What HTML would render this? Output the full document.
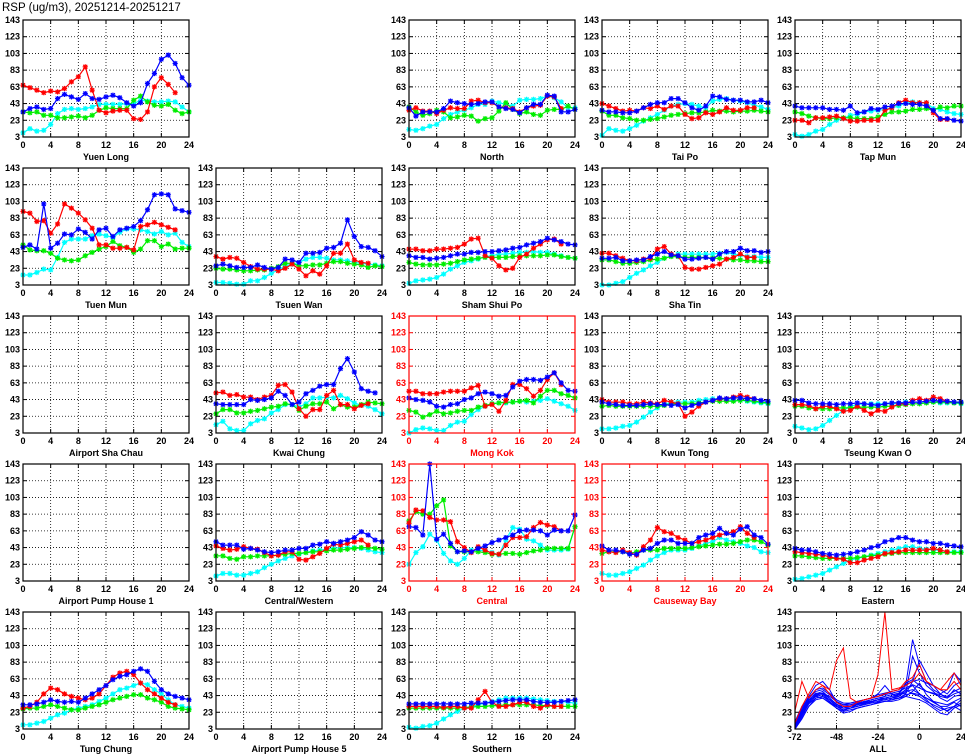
<!DOCTYPE html>
<html><head><meta charset="utf-8"><style>
html,body{margin:0;padding:0;background:#fff;}
svg{display:block;font-family:"Liberation Sans",sans-serif;font-weight:bold;}
</style></head><body>
<svg id="chart" width="965" height="755" viewBox="0 0 965 755" xmlns="http://www.w3.org/2000/svg">
<text x="2" y="11" font-size="11.5" font-weight="normal" fill="#000">RSP (ug/m3), 20251214-20251217</text>
</svg>
<script>
const hours = [0,1,2,3,4,5,6,7,8,9,10,11,12,13,14,15,16,17,18,19,20,21,22,23,24];
const xTicks = [0,4,8,12,16,20,24];
const yTicks = [3,23,43,63,83,103,123,143];
const allXTicks = [-72,-48,-24,0,24];
const allHours = [-72,-68,-64,-60,-56,-52,-48,-44,-40,-36,-32,-28,-24,-20,-16,-12,-8,-4,0,4,8,12,16,20,24];
const N = null;

const yuenLongRed=[65,62,59,56,58,57,61,69,75,87,59,35,32,34,35,35,25,24,33,63,74,66,56,N,N];
const yuenLongBlue=[33,37,39,36,37,49,54,51,48,55,49,48,51,53,50,44,40,44,67,79,96,101,91,74,65];
const yuenLongCyan=[8,13,10,11,18,31,36,37,36,37,39,42,42,42,42,43,43,47,46,45,45,46,45,39,33];
const yuenLongGreen=[33,32,33,29,29,26,26,27,28,26,29,35,38,37,37,37,47,52,45,41,40,42,35,31,33];

const northRed=[35,38,34,34,31,35,38,37,37,46,47,44,44,39,38,37,33,38,40,41,52,51,37,N,N];
const northBlue=[38,28,33,33,33,37,46,44,43,42,43,45,45,39,37,36,32,38,42,42,53,52,33,33,36];
const northCyan=[12,11,13,16,18,25,30,33,35,38,42,42,46,44,42,40,47,48,48,49,52,50,45,38,38];
const northGreen=[39,33,29,31,35,33,26,27,29,28,22,25,26,34,44,36,31,33,30,29,35,36,36,40,36];

const taiPoRed=[43,40,37,34,35,34,38,37,40,36,40,40,30,25,26,32,30,33,38,35,35,38,38,N,N];
const taiPoBlue=[35,33,33,32,32,34,38,42,44,44,49,49,44,38,35,40,52,51,48,47,47,45,45,47,44];
const taiPoCyan=[5,13,11,10,13,17,22,26,30,35,40,42,43,42,40,38,46,48,49,47,46,44,41,39,36];
const taiPoGreen=[34,29,29,26,25,23,23,24,25,27,29,30,31,32,32,33,35,34,34,33,34,34,35,34,33];

const tapMunRed=[23,23,20,26,26,27,28,25,22,22,23,23,23,35,38,44,47,44,44,44,32,24,24,N,N];
const tapMunBlue=[40,38,38,38,38,36,36,35,40,32,33,37,36,39,40,43,43,42,42,40,35,25,25,23,22];
const tapMunCyan=[6,4,6,10,12,18,23,25,29,30,33,34,35,36,38,40,44,45,44,44,37,36,33,31,30];
const tapMunGreen=[33,31,28,26,25,25,26,26,26,25,25,25,27,30,33,33,34,36,36,37,35,39,38,40,40];

const tuenMunRed=[91,89,79,80,65,76,100,95,89,81,71,51,51,47,47,48,45,73,75,78,75,72,69,N,N];
const tuenMunBlue=[48,51,46,100,47,53,64,63,70,66,58,69,71,61,69,71,73,80,93,111,112,111,94,92,90];
const tuenMunCyan=[15,15,18,22,21,36,54,58,58,58,62,64,62,60,66,70,70,69,67,64,67,63,65,54,49];
const tuenMunGreen=[51,45,44,44,41,35,33,32,33,38,42,46,49,55,50,48,42,46,56,56,49,52,46,47,47];

const tsuenWanRed=[37,34,36,35,30,25,22,22,22,20,23,28,22,14,20,16,26,41,41,52,33,30,29,N,N];
const tsuenWanBlue=[26,28,26,24,24,24,27,24,22,24,34,33,30,41,41,42,47,48,53,81,61,49,48,44,37];
const tsuenWanCyan=[6,6,5,4,4,8,8,12,17,21,26,28,30,34,36,36,35,33,33,32,30,29,28,27,26];
const tsuenWanGreen=[23,22,22,21,20,20,21,21,23,25,29,29,26,26,27,27,29,31,31,29,28,27,24,26,25];

const shamShuiPoRed=[46,46,44,44,46,46,47,48,52,58,59,38,35,26,21,23,36,40,47,52,57,58,52,N,N];
const shamShuiPoBlue=[38,36,36,34,35,36,38,40,40,42,42,43,43,44,45,47,48,51,53,55,59,57,55,52,51];
const shamShuiPoCyan=[5,8,9,10,12,16,22,26,30,32,34,37,38,40,40,41,42,42,43,42,42,40,38,36,35];
const shamShuiPoGreen=[30,28,27,27,27,28,29,31,33,34,35,36,36,36,36,37,38,38,38,38,39,39,37,36,35];

const shaTinRed=[41,41,38,35,32,32,34,35,46,49,40,38,24,22,22,24,26,28,34,36,40,36,36,N,N];
const shaTinBlue=[35,35,36,32,32,33,33,37,40,43,39,38,34,34,35,36,34,40,43,43,47,44,44,42,43];
const shaTinCyan=[3,3,5,7,12,17,21,26,30,35,38,40,40,40,40,40,40,41,42,40,39,37,37,36,36];
const shaTinGreen=[33,33,31,29,29,30,31,33,34,35,37,37,36,36,36,36,35,35,34,33,33,32,32,31,31];

const kwaiChungRed=[51,52,48,49,46,46,43,46,48,60,61,52,32,23,31,31,48,54,37,37,32,36,38,N,N];
const kwaiChungBlue=[38,37,37,37,37,43,42,43,45,53,48,37,40,50,54,59,61,61,80,92,76,56,53,51,N];
const kwaiChungCyan=[13,17,8,6,6,14,18,20,27,31,37,37,34,38,45,45,46,45,48,44,39,36,35,31,26];
const kwaiChungGreen=[26,31,31,27,27,29,30,32,34,35,38,37,30,35,38,38,40,32,37,34,34,37,40,39,38];

const mongKokRed=[53,53,50,50,50,52,53,53,53,57,60,35,37,29,42,61,61,56,47,54,67,75,61,N,N];
const mongKokBlue=[45,43,42,40,35,34,37,38,43,45,50,52,50,47,48,58,65,67,67,66,70,75,63,54,53];
const mongKokCyan=[3,7,9,8,6,6,12,16,17,25,31,35,38,39,39,40,41,40,41,42,44,41,38,35,30];
const mongKokGreen=[30,28,22,25,29,26,27,29,30,30,34,36,38,39,40,40,41,42,39,47,54,54,50,48,45];

const kwunTongRed=[43,40,40,40,38,38,40,39,38,42,40,38,23,28,35,40,42,44,44,46,48,46,44,N,N];
const kwunTongBlue=[40,38,37,36,36,36,37,38,37,37,36,37,33,36,38,40,42,45,44,45,45,44,44,42,41];
const kwunTongCyan=[8,8,9,11,12,16,22,28,33,37,40,40,40,40,42,43,44,44,43,42,42,41,40,39,38];
const kwunTongGreen=[35,36,35,35,35,35,35,35,35,36,38,38,38,38,39,40,41,41,41,41,42,42,41,40,39];

const tkoRed=[37,37,36,32,35,35,32,29,30,35,30,26,30,29,34,38,38,42,44,42,46,44,41,N,N];
const tkoBlue=[42,42,39,38,38,38,37,38,38,39,38,37,36,38,39,39,39,40,40,41,42,41,41,40,40];
const tkoCyan=[11,9,7,8,12,18,24,30,35,37,38,38,38,38,38,39,40,40,40,40,40,39,39,39,38];
const tkoGreen=[35,35,33,32,32,32,33,33,33,34,34,34,34,35,35,36,37,38,38,39,40,40,40,39,39];

const cwRed=[45,42,40,41,44,42,41,37,33,34,38,38,29,28,32,36,42,47,46,48,50,52,46,N,N];
const cwBlue=[50,46,46,46,41,42,40,38,37,38,40,40,42,42,46,47,50,48,50,52,55,62,58,52,50];
const cwCyan=[9,12,12,10,10,12,14,19,23,27,30,33,35,37,39,40,41,42,43,43,43,42,40,38,37];
const cwGreen=[33,33,30,29,32,32,33,33,33,34,35,36,36,37,38,38,39,40,40,41,42,43,43,42,41];

const centralRed=[72,88,87,79,76,76,74,50,43,37,44,40,36,35,46,55,55,56,67,73,70,68,63,N,N];
const centralBlue=[68,67,58,143,53,59,48,38,39,38,42,45,49,52,55,58,63,64,64,63,58,64,63,63,82];
const centralCyan=[23,37,44,59,52,36,27,23,30,40,40,39,37,34,52,67,65,53,51,46,40,40,40,41,68];
const centralGreen=[75,86,83,83,93,100,45,38,38,38,38,37,35,35,36,36,35,37,39,40,42,42,42,42,68];

const cbRed=[40,38,37,40,37,34,44,52,67,62,60,55,52,48,50,52,55,58,60,62,68,60,55,N,N];
const cbBlue=[45,40,40,38,35,35,40,42,48,52,52,48,48,48,55,58,60,66,60,58,65,68,58,55,47];
const cbCyan=[12,10,10,12,14,18,22,28,33,37,40,40,40,42,45,48,50,55,52,50,48,45,43,38,37];
const cbGreen=[36,38,38,38,36,38,40,40,40,42,42,42,42,43,44,45,46,47,47,48,50,52,52,50,46];

const easternRed=[38,37,36,35,34,32,30,29,25,25,28,30,32,36,37,38,40,40,40,40,42,40,38,N,N];
const easternBlue=[42,40,40,38,36,35,34,35,36,38,40,43,45,50,52,55,55,52,50,50,48,48,46,45,44];
const easternCyan=[5,6,8,10,12,16,20,24,28,30,32,34,36,38,40,42,44,44,42,41,40,40,38,38,38];
const easternGreen=[33,33,32,31,30,30,30,30,30,31,32,33,34,35,36,37,37,37,37,37,37,37,37,37,37];

const tungChungRed=[28,30,35,45,52,50,45,42,40,38,40,45,55,65,70,72,68,58,50,45,40,35,32,N,N];
const tungChungBlue=[32,32,33,35,38,36,35,36,35,40,45,50,55,62,66,68,72,75,72,60,50,45,42,40,38];
const tungChungCyan=[8,8,10,12,16,20,22,26,28,30,32,36,40,45,50,52,55,58,56,50,45,38,32,30,28];
const tungChungGreen=[27,28,28,30,32,30,28,26,26,28,30,32,35,38,40,42,44,44,40,38,35,30,28,27,26];

const southernRed=[30,30,30,30,30,29,30,30,28,28,38,48,35,30,30,32,35,35,30,28,32,30,30,N,N];
const southernBlue=[33,33,33,33,33,33,33,33,33,34,34,34,35,36,37,38,38,38,36,35,35,35,36,37,38];
const southernCyan=[5,4,6,7,10,15,20,24,28,30,32,34,36,38,40,40,40,40,39,38,37,36,36,35,34];
const southernGreen=[28,28,28,28,28,28,28,28,29,29,30,30,31,31,32,32,32,32,32,31,31,30,30,30,30];

const allBlue1=[8,25,38,42,40,35,30,28,30,33,35,36,38,40,42,45,55,110,80,60,50,45,40,50,45];
const allBlue2=[5,20,35,45,48,40,32,30,30,32,35,38,40,40,38,40,45,60,85,70,55,45,50,70,60];
const allBlue3=[3,15,30,40,42,38,30,25,28,30,33,35,38,38,40,42,50,55,45,40,35,30,30,35,30];
const allBlue4=[10,28,42,55,60,50,35,30,32,35,38,40,45,55,45,42,48,50,45,38,30,25,28,30,25];
const allBlue5=[6,22,38,46,45,40,33,28,28,32,34,36,38,38,40,44,50,45,42,36,32,28,25,30,38];
const allBlue6=[4,18,33,40,42,36,28,24,26,28,30,32,35,36,36,38,42,40,38,34,28,22,20,28,32];
const allBlue7=[8,24,36,44,46,42,36,32,32,34,36,38,40,42,44,46,58,62,55,48,45,42,40,45,48];
const allBlue8=[12,30,40,48,50,44,36,32,34,36,38,40,42,44,46,48,52,56,52,48,46,44,42,48,52];
const allBlue9=[5,20,34,42,44,38,30,26,28,30,32,34,36,38,40,40,44,46,44,40,36,34,32,36,40];
const allBlue10=[7,22,36,43,46,40,32,28,30,32,34,36,38,40,42,44,46,90,70,55,48,40,36,42,44];
const allBlue11=[3,16,30,38,40,34,28,22,24,28,30,32,34,36,38,40,42,48,58,44,36,30,24,30,34];
const allBlue12=[9,26,40,50,52,46,38,34,34,36,38,40,44,46,48,50,56,60,62,58,55,50,45,55,60];
const allRed1=[25,60,40,50,55,50,85,100,40,35,38,40,68,143,50,52,55,60,70,60,55,50,60,70,55];
const allRed2=[10,30,45,60,55,45,35,30,30,35,38,40,42,45,48,50,60,65,80,60,55,50,50,60,50];

const svg = document.getElementById('chart');
const NS = 'http://www.w3.org/2000/svg';
const PW = 166, PH = 117;
const COLORS = {red:'#ff0000', blue:'#0000ff', cyan:'#00ffff', green:'#00ee00'};

function mk(tag, attrs, parent){
  const e = document.createElementNS(NS, tag);
  for (const k in attrs) e.setAttribute(k, attrs[k]);
  (parent||svg).appendChild(e);
  return e;
}

function panel(col, row, name, slug, isRed, series, xmin, xmax, xt, xs, markers){
  const x0 = 23 + 193*col, y0 = 20 + 148*row;
  const fc = isRed ? '#ff0000' : '#000';
  const g = mk('g', {});
  
  
  const sx = v => x0 + (v - xmin) / (xmax - xmin) * PW;
  const sy = v => y0 + PH - (v - 3) / 140 * PH;
  // grid
  xt.forEach(t => {
    if (t !== xmin && t !== xmax) {
      const l = mk('line', {x1:sx(t), x2:sx(t), y1:y0, y2:y0+PH, stroke:'#000', 'stroke-width':0.8, 'stroke-dasharray':'1,2'}, g);
      
      
    }
    const tx = mk('text', {x:sx(t), y:y0+PH+11, 'font-size':9, 'text-anchor':'middle', fill:fc}, g);
    tx.textContent = t;
    
    
    mk('line', {x1:sx(t), x2:sx(t), y1:y0+PH, y2:y0+PH-4, stroke:fc, 'stroke-width':1}, g);
    mk('line', {x1:sx(t), x2:sx(t), y1:y0, y2:y0+4, stroke:fc, 'stroke-width':1}, g);
  });
  yTicks.forEach(t => {
    if (t !== 3 && t !== 143) {
      const l = mk('line', {x1:x0, x2:x0+PW, y1:sy(t), y2:sy(t), stroke:'#000', 'stroke-width':0.8, 'stroke-dasharray':'1,2'}, g);
      
      
    }
    const ty = mk('text', {x:x0-3, y:sy(t)+3, 'font-size':9, 'text-anchor':'end', fill:fc}, g);
    ty.textContent = t;
    
    
    mk('line', {x1:x0, x2:x0+4, y1:sy(t), y2:sy(t), stroke:fc, 'stroke-width':1}, g);
    mk('line', {x1:x0+PW, x2:x0+PW-4, y1:sy(t), y2:sy(t), stroke:fc, 'stroke-width':1}, g);
  });
  // series
  series.forEach(s => {
    const col2 = COLORS[s.color];
    let d = '', pen = false;
    s.values.forEach((v, i) => {
      if (v === null) { pen = false; return; }
      d += (pen ? 'L' : 'M') + sx(xs[i]).toFixed(1) + ',' + sy(v).toFixed(1);
      pen = true;
    });
    const p = mk('path', {d:d, fill:'none', stroke:col2, 'stroke-width':markers?1.2:1}, g);
    
    
    if (markers) {
      let md = '';
      s.values.forEach((v, i) => {
        if (v === null) return;
        const cx = sx(xs[i]), cy = sy(v), r = 2.6;
        md += `M${cx-r},${cy}h${2*r}M${cx},${cy-r}v${2*r}M${cx-2},${cy-2}l4,4M${cx-2},${cy+2}l4,-4`;
      });
      const m = mk('path', {d:md, fill:'none', stroke:col2, 'stroke-width':1.2}, g);
      
      
    }
  });
  const fr = mk('rect', {x:x0, y:y0, width:PW, height:PH, fill:'none', stroke:fc, 'stroke-width':1.2}, g);
  
  
  const lab = mk('text', {x:x0+PW/2, y:y0+PH+23, 'font-size':9, 'text-anchor':'middle', fill:fc}, g);
  lab.textContent = name;
  
  
}

function st(col,row,name,slug,isRed,r,b,c,gr){
  panel(col,row,name,slug,isRed,[
    {color:'cyan',values:c},{color:'green',values:gr},{color:'red',values:r},{color:'blue',values:b}
  ],0,24,xTicks,hours,true);
}

st(0,0,'Yuen Long','yuen-long',false,yuenLongRed,yuenLongBlue,yuenLongCyan,yuenLongGreen);
st(2,0,'North','north',false,northRed,northBlue,northCyan,northGreen);
st(3,0,'Tai Po','tai-po',false,taiPoRed,taiPoBlue,taiPoCyan,taiPoGreen);
st(4,0,'Tap Mun','tap-mun',false,tapMunRed,tapMunBlue,tapMunCyan,tapMunGreen);
st(0,1,'Tuen Mun','tuen-mun',false,tuenMunRed,tuenMunBlue,tuenMunCyan,tuenMunGreen);
st(1,1,'Tsuen Wan','tsuen-wan',false,tsuenWanRed,tsuenWanBlue,tsuenWanCyan,tsuenWanGreen);
st(2,1,'Sham Shui Po','sham-shui-po',false,shamShuiPoRed,shamShuiPoBlue,shamShuiPoCyan,shamShuiPoGreen);
st(3,1,'Sha Tin','sha-tin',false,shaTinRed,shaTinBlue,shaTinCyan,shaTinGreen);
st(0,2,'Airport Sha Chau','airport-sha-chau',false,[],[],[],[]);
st(1,2,'Kwai Chung','kwai-chung',false,kwaiChungRed,kwaiChungBlue,kwaiChungCyan,kwaiChungGreen);
st(2,2,'Mong Kok','mong-kok',true,mongKokRed,mongKokBlue,mongKokCyan,mongKokGreen);
st(3,2,'Kwun Tong','kwun-tong',false,kwunTongRed,kwunTongBlue,kwunTongCyan,kwunTongGreen);
st(4,2,'Tseung Kwan O','tseung-kwan-o',false,tkoRed,tkoBlue,tkoCyan,tkoGreen);
st(0,3,'Airport Pump House 1','airport-pump-house-1',false,[],[],[],[]);
st(1,3,'Central/Western','central-western',false,cwRed,cwBlue,cwCyan,cwGreen);
st(2,3,'Central','central',true,centralRed,centralBlue,centralCyan,centralGreen);
st(3,3,'Causeway Bay','causeway-bay',true,cbRed,cbBlue,cbCyan,cbGreen);
st(4,3,'Eastern','eastern',false,easternRed,easternBlue,easternCyan,easternGreen);
st(0,4,'Tung Chung','tung-chung',false,tungChungRed,tungChungBlue,tungChungCyan,tungChungGreen);
st(1,4,'Airport Pump House 5','airport-pump-house-5',false,[],[],[],[]);
st(2,4,'Southern','southern',false,southernRed,southernBlue,southernCyan,southernGreen);

const allBlues=[allBlue1,allBlue2,allBlue3,allBlue4,allBlue5,allBlue6,allBlue7,allBlue8,allBlue9,allBlue10,allBlue11,allBlue12];
const allSeries = allBlues.map(v => ({color:'blue', values:v}));
allSeries.push({color:'red', values:allRed1});
allSeries.push({color:'red', values:allRed2});
panel(4,4,'ALL','all',false,allSeries,-72,24,allXTicks,allHours,false);
</script>
</body></html>
